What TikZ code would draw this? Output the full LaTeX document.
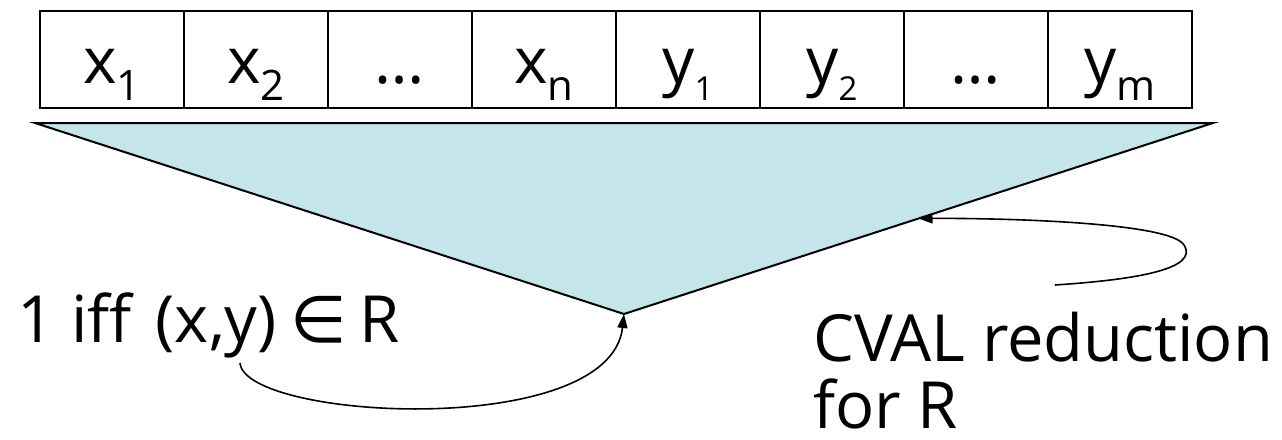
\documentclass[tikz,border=0pt]{standalone}
\usepackage{fontspec}
\setmainfont{Open Sans}
\newfontfamily\symfnt{DejaVu Sans}
\usetikzlibrary{arrows.meta,calc}
\definecolor{trifill}{RGB}{196,229,233}
\newcommand\subbig[1]{\raisebox{-17pt}{\fontsize{42}{42}\selectfont #1}}
\newcommand\subsml[1]{\raisebox{-17pt}{\fontsize{33}{33}\selectfont #1}}
\begin{document}
\begin{tikzpicture}[x=1pt,y=-1pt,
  cell/.style={draw, line width=2pt, minimum width=144pt, minimum height=97pt,
    inner sep=0pt, text height=47pt, text depth=0pt, font=\fontsize{64}{64}\selectfont},
  lbl/.style={font=\fontsize{65}{67}\selectfont, inner sep=0pt},
  conn/.style={line width=1.6pt, -{Triangle[length=14pt,width=10pt]}},
  tri/.style={fill=trifill, draw, line width=2pt, line join=miter}
]
\useasboundingbox (0,0) rectangle (1282,439);
% table
\node[cell] (c1) at (112,59.5) {x\subbig{1}};
\node[cell] (c2) at (256,59.5) {x\subbig{2}};
\node[cell] (c3) at (400,59.5) {…};
\node[cell] (c4) at (544,59.5) {x\subbig{n}};
\node[cell] (c5) at (688,59.5) {y\subsml{1}};
\node[cell] (c6) at (832,59.5) {y\subsml{2}};
\node[cell] (c7) at (976,59.5) {…};
\node[cell] (c8) at (1120,59.5) {y\subbig{m}};
% triangle
\coordinate (tl) at (35,123);
\coordinate (tr) at (1213,123);
\coordinate (apex) at (624,314);
\path[tri] (tl) -- (tr) -- (apex) -- cycle;
\coordinate (t2) at ($(tr)!0.5!(apex)$);
% labels
\node[lbl, anchor=base west] (lab1) at (17,342)
  {1 iff\hspace{24pt}(x,y)\hspace{14pt}{\symfnt ∈}\hspace{12pt}R};
\node[lbl, anchor=base west, align=left] (lab2) at (813,428) {CVAL reduction\\for R};
% connectors
\coordinate (s1) at (240,363);
\coordinate (s2) at (1055,285);
\draw[conn] (s1) .. controls (245,420) and (610,440) .. (apex);
\draw[conn] (s2) .. controls (1130,280) and (1200,270) .. (1184,245)
  .. controls (1170,222) and (1000,218) .. (t2);
\end{tikzpicture}
\end{document}
